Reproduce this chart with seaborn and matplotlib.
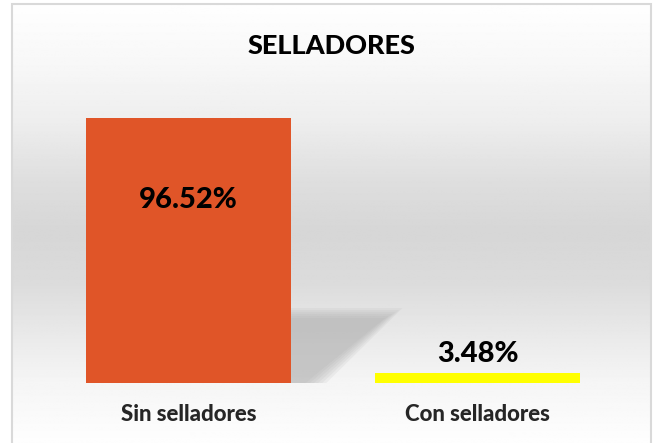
import numpy as np
import pandas as pd
import matplotlib
matplotlib.use("Agg")
import matplotlib.pyplot as plt
from matplotlib.patches import Polygon, Rectangle
import seaborn as sns

# datos
categorias = ["Sin selladores", "Con selladores"]
porcentajes = [96.52, 3.48]
colores = ["#E05528", "#FFFF00"]
titulo = "SELLADORES"

df = pd.DataFrame({"categoria": categorias, "porcentaje": porcentajes})

sns.set_theme(style="white")
plt.rcParams["font.family"] = ["Lato", "DejaVu Sans"]

fig = plt.figure(figsize=(6.56, 4.43), dpi=100)

# fondo degradado (blanco arriba, gris en el medio, blanco abajo)
bg = fig.add_axes([0, 0, 1, 1], zorder=0)
py = np.linspace(0, 443, 400)  # pixeles desde arriba
g = np.interp(py, [4, 60, 120, 180, 230, 280, 330, 380, 443],
              [0.995, 0.97, 0.93, 0.87, 0.84, 0.86, 0.91, 0.96, 0.995])
img = np.repeat(g[:, None], 2, axis=1)
bg.imshow(img, cmap="gray", vmin=0, vmax=1, aspect="auto",
          extent=[12 / 656, 651 / 656, 0, 1 - 4 / 443], origin="upper")
bg.add_patch(Rectangle((12 / 656, -0.01), 639 / 656, 1 - 4 / 443 + 0.01,
                       fill=False, edgecolor="#d9d9d9", lw=1.5))
bg.set_xlim(0, 1)
bg.set_ylim(0, 1)
bg.axis("off")

ax = fig.add_axes([44 / 656, 60 / 443, 578 / 656, 265 / 443], zorder=1)
ax.patch.set_alpha(0)
sns.barplot(data=df, x="categoria", y="porcentaje", hue="categoria",
            palette=colores, width=0.71, legend=False, ax=ax, saturation=1,
            linewidth=0, edgecolor="none")
ax.set_xlim(-0.5, 1.5)
ax.set_ylim(0, max(porcentajes))

# sombra de la primera barra
b = ax.patches[0]
x1 = b.get_x() + b.get_width()
h = b.get_height()
for k in range(6):
    e = 0.012 * k
    sh = Polygon([(x1 - 0.01, 0), (x1 - 0.01, 0.245 * h + e * 60),
                  (x1 + 0.325 + e, 0.245 * h + e * 60), (x1 + 0.05 + e, -e * 20)],
                 closed=True, facecolor="#a8a8a8", alpha=0.13, lw=0, zorder=0.5)
    ax.add_patch(sh)

for p, v in zip(ax.patches[:2], porcentajes):
    cx = p.get_x() + p.get_width() / 2
    if v > 50:
        y = p.get_height() - 30
    else:
        y = p.get_height() + 7
    ax.text(cx, y, f"{v:.2f}%", ha="center", va="center",
            fontsize=21, fontweight="black", color="black")

ax.set_xlabel("")
ax.set_ylabel("")
ax.set_yticks([])
ax.tick_params(axis="x", length=0, pad=15)
for lbl in ax.get_xticklabels():
    lbl.set_fontsize(16)
    lbl.set_fontweight("black")
for s in ax.spines.values():
    s.set_visible(False)

fig.text(331 / 656, 1 - 46 / 443, titulo, ha="center", va="center",
         fontsize=19.5, fontweight="black", color="black")

fig.savefig("out.png", dpi=100)
